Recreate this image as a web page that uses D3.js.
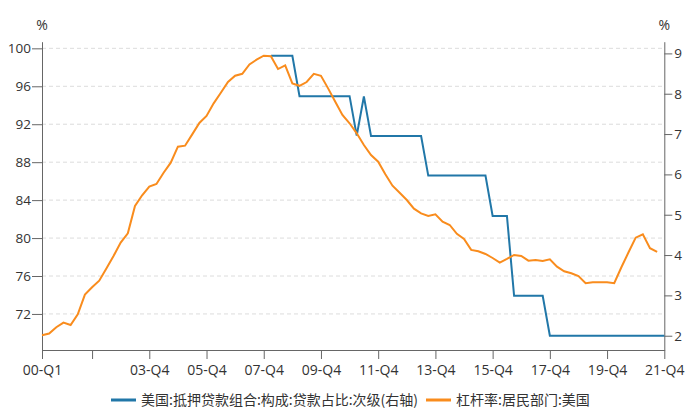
<!DOCTYPE html>
<html>
<head>
<meta charset="utf-8">
<script src="https://cdn.jsdelivr.net/npm/d3@7"></script>
<style>
  body { margin: 0; background: #fff; }
  text { font-family: "Open Sans", "Noto Sans CJK SC", sans-serif; fill: #333; }
  .axis path, .axis line { stroke: #666; }
  .legend text { font-family: "Noto Sans CJK SC", sans-serif; }
</style>
</head>
<body>
<div id="main"></div>
<script>
// quarters 00-Q1 ... 21-Q4
var quarters = [];
for (var y = 0; y <= 21; y++) {
  for (var q = 1; q <= 4; q++) {
    quarters.push((y < 10 ? "0" + y : "" + y) + "-Q" + q);
  }
}

// 杠杆率:居民部门:美国 (left axis), 00-Q1 .. 21-Q3
var leverage = [
  69.75, 69.93, 70.6, 71.09, 70.84, 71.97, 74.04, 74.81,
  75.51, 76.8, 78.1, 79.52, 80.5, 83.38, 84.51, 85.42,
  85.7, 86.89, 87.95, 89.63, 89.74, 90.93, 92.13, 92.87,
  94.2, 95.32, 96.45, 97.11, 97.32, 98.31, 98.8, 99.22,
  99.16, 97.82, 98.2, 96.3, 96.05, 96.45, 97.32, 97.11,
  95.78, 94.37, 92.97, 92.1, 91.04, 89.81, 88.75, 88.05,
  86.72, 85.52, 84.78, 84.01, 83.1, 82.6, 82.33, 82.5,
  81.73, 81.38, 80.45, 79.9, 78.75, 78.61, 78.32, 77.9,
  77.41, 77.8, 78.22, 78.11, 77.62, 77.69, 77.59, 77.76,
  76.99, 76.5, 76.29, 76.0, 75.24, 75.34, 75.34, 75.34,
  75.24, 76.92, 78.5, 80.04, 80.4, 78.93, 78.54
];

// 美国:抵押贷款组合:构成:贷款占比:次级 (right axis), starts 08-Q1
var subprime = [
  null, null, null, null, null, null, null, null,
  null, null, null, null, null, null, null, null,
  null, null, null, null, null, null, null, null,
  null, null, null, null, null, null, null, null,
  8.94, 8.94, 8.94, 8.94, 7.94, 7.94, 7.94, 7.94,
  7.94, 7.94, 7.94, 7.94, 6.96, 7.93, 6.95, 6.95,
  6.95, 6.95, 6.95, 6.95, 6.95, 6.95, 5.97, 5.97,
  5.97, 5.97, 5.97, 5.97, 5.97, 5.97, 5.97, 4.97,
  4.97, 4.97, 2.99, 2.99, 2.99, 2.99, 2.99, 2.0,
  2.0, 2.0, 2.0, 2.0, 2.0, 2.0, 2.0, 2.0,
  2.0, 2.0, 2.0, 2.0, 2.0, 2.0, 2.0, 2.0
];

var leftTicks = [72, 76, 80, 84, 88, 92, 96, 100];
var rightTicks = [2, 3, 4, 5, 6, 7, 8, 9];
var xTickLabels = ["00-Q1", "01-Q4", "03-Q4", "05-Q4", "07-Q4", "09-Q4", "11-Q4", "13-Q4", "15-Q4", "17-Q4", "19-Q4", "21-Q4"];
var hiddenLabels = ["01-Q4"];

var seriesNames = ["美国:抵押贷款组合:构成:贷款占比:次级(右轴)", "杠杆率:居民部门:美国"];
var colors = ["#2177a8", "#f98c1d"];

var CONFIG = {
  width: 692,
  height: 410,
  left: 42,
  right: 664.3,
  top: 41.7,
  bottom: 350
};

var svg = d3.select("#main")
  .append("svg")
  .attr("width", CONFIG.width)
  .attr("height", CONFIG.height);

var xScale = d3.scalePoint()
  .domain(quarters)
  .range([CONFIG.left, CONFIG.right]);

var yLeft = d3.scaleLinear()
  .domain([68.2, 100.7])
  .range([CONFIG.bottom, CONFIG.top]);

var yRight = d3.scaleLinear()
  .domain([1.646, 9.29])
  .range([CONFIG.bottom, CONFIG.top]);

// grid
svg.append("g")
  .selectAll("line")
  .data(leftTicks)
  .enter().append("line")
  .attr("x1", CONFIG.left)
  .attr("x2", CONFIG.right)
  .attr("y1", d => yLeft(d))
  .attr("y2", d => yLeft(d))
  .attr("stroke", "#dcdcdc")
  .attr("stroke-dasharray", "4,3");

// axes
svg.append("g")
  .attr("class", "axis")
  .attr("transform", "translate(" + CONFIG.left + ",0)")
  .call(d3.axisLeft(yLeft).tickValues(leftTicks).tickSize(10).tickPadding(1).tickSizeOuter(0))
  .call(g => g.selectAll("text").style("font-size", "13.5px"));

svg.append("g")
  .attr("class", "axis")
  .attr("transform", "translate(" + CONFIG.right + ",0)")
  .call(d3.axisRight(yRight).tickValues(rightTicks).tickSize(8).tickPadding(2).tickSizeOuter(0))
  .call(g => g.selectAll("text").style("font-size", "13.5px"));

svg.append("g")
  .attr("class", "axis")
  .attr("transform", "translate(0," + CONFIG.bottom + ")")
  .call(d3.axisBottom(xScale).tickValues(xTickLabels).tickSize(9).tickPadding(6).tickSizeOuter(0)
    .tickFormat(d => hiddenLabels.indexOf(d) >= 0 ? "" : d))
  .call(g => g.selectAll("text").style("font-size", "14px"));

// unit labels
svg.append("text")
  .attr("x", CONFIG.left)
  .attr("y", 30)
  .attr("text-anchor", "middle")
  .style("font-size", "14px")
  .text("%");

svg.append("text")
  .attr("x", CONFIG.right)
  .attr("y", 30)
  .attr("text-anchor", "middle")
  .style("font-size", "14px")
  .text("%");

// lines
var subprimeLine = d3.line()
  .defined(d => d != null)
  .x((d, i) => xScale(quarters[i]))
  .y(d => yRight(d));

var leverageLine = d3.line()
  .x((d, i) => xScale(quarters[i]))
  .y(d => yLeft(d));

svg.append("path")
  .datum(subprime)
  .attr("fill", "none")
  .attr("stroke", colors[0])
  .attr("stroke-width", 2)
  .attr("d", subprimeLine);

svg.append("path")
  .datum(leverage)
  .attr("fill", "none")
  .attr("stroke", colors[1])
  .attr("stroke-width", 2)
  .attr("d", leverageLine);

// legend
var legendX = [111, 426];
var legend = svg.append("g")
  .attr("class", "legend")
  .selectAll("g")
  .data(seriesNames)
  .enter().append("g")
  .attr("transform", (d, i) => "translate(" + legendX[i] + ",400)");

legend.append("line")
  .attr("x1", 0)
  .attr("x2", 25)
  .attr("stroke", (d, i) => colors[i])
  .attr("stroke-width", 3);

legend.append("text")
  .attr("x", 30)
  .attr("dy", "0.35em")
  .style("font-size", "14px")
  .text(d => d);
</script>
</body>
</html>
